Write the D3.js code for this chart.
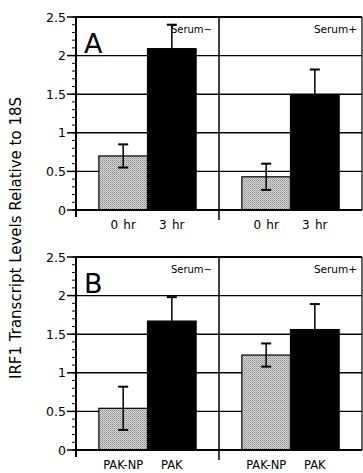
<!DOCTYPE html>
<html><head><meta charset="utf-8">
<script src="https://cdn.jsdelivr.net/npm/d3@7"></script>
<style>body{margin:0;background:#fff}svg{display:block}text{font-family:"DejaVu Sans",sans-serif;fill:#000}</style>
</head><body><svg id="c" width="363" height="473"></svg>
<script>
const panels = ["A", "B"];
const groups = ["Serum\u2212", "Serum+"];
const conditionsA = ["0 hr", "3 hr"];
const conditionsB = ["PAK-NP", "PAK"];
const meanA_serumMinus = [0.70, 2.09];
const errA_serumMinus  = [0.15, 0.31];
const meanA_serumPlus  = [0.43, 1.49];
const errA_serumPlus   = [0.17, 0.33];
const meanB_serumMinus = [0.54, 1.67];
const errB_serumMinus  = [0.28, 0.31];
const meanB_serumPlus  = [1.23, 1.56];
const errB_serumPlus   = [0.15, 0.33];
const yTicks = [0, 0.5, 1, 1.5, 2, 2.5];
const yTickLabels = ["0", "0.5", "1", "1.5", "2", "2.5"];
const yTitle = "IRF1 Transcript Levels Relative to 18S";

const panelData = [
  {label: panels[0], conds: conditionsA, condSize: 12, wordSpacing: 1.5,
   groups: [{name: groups[0], means: meanA_serumMinus, errs: errA_serumMinus},
            {name: groups[1], means: meanA_serumPlus, errs: errA_serumPlus}]},
  {label: panels[1], conds: conditionsB, condSize: 11.5, wordSpacing: 0,
   groups: [{name: groups[0], means: meanB_serumMinus, errs: errB_serumMinus},
            {name: groups[1], means: meanB_serumPlus, errs: errB_serumPlus}]}
];

const svg = d3.select("#c");
const defs = svg.append("defs");
const pat = defs.append("pattern").attr("id","stip").attr("width",2).attr("height",2).attr("patternUnits","userSpaceOnUse");
pat.append("rect").attr("width",2).attr("height",2).attr("fill","#d6d6d6");
pat.append("rect").attr("width",1).attr("height",1).attr("fill","#8c8c8c");
pat.append("rect").attr("x",1).attr("y",1).attr("width",1).attr("height",1).attr("fill","#acacac");

const left = 76, right = 362;
const panelTops = [17, 257], panelH = 193;
const xGroup = d3.scaleBand().domain(groups).range([left, right]);
const colors = ["url(#stip)", "#000"];

panelData.forEach((p, pi) => {
  const top = panelTops[pi], bottom = top + panelH;
  const y = d3.scaleLinear().domain([0, 2.5]).range([bottom, top]);
  const g = svg.append("g");
  g.selectAll(".grid").data(yTicks.filter(t => t > 0 && t < 2.5)).join("line")
    .attr("x1", left).attr("x2", right).attr("y1", d => y(d)).attr("y2", d => y(d))
    .attr("stroke", "#000").attr("stroke-width", 1.4);
  p.groups.forEach(gr => {
    const xi = d3.scaleBand().domain(p.conds).range([xGroup(gr.name), xGroup(gr.name) + xGroup.bandwidth()]).paddingInner(0).paddingOuter(0.47);
    const gg = g.append("g");
    gg.selectAll("rect").data(p.conds).join("rect")
      .attr("x", d => xi(d)).attr("width", xi.bandwidth())
      .attr("y", (d, i) => y(gr.means[i])).attr("height", (d, i) => bottom - y(gr.means[i]))
      .attr("fill", (d, i) => colors[i]).attr("stroke", "#000").attr("stroke-width", 1.2);
    const eb = gg.selectAll(".eb").data(p.conds).join("g");
    eb.append("line").attr("x1", d => xi(d) + xi.bandwidth()/2).attr("x2", d => xi(d) + xi.bandwidth()/2)
      .attr("y1", (d, i) => y(gr.means[i] + gr.errs[i])).attr("y2", (d, i) => y(gr.means[i] - gr.errs[i]))
      .attr("stroke", "#000").attr("stroke-width", 1.5);
    [1, -1].forEach(s => {
      eb.append("line").attr("x1", d => xi(d) + xi.bandwidth()/2 - 5).attr("x2", d => xi(d) + xi.bandwidth()/2 + 5)
        .attr("y1", (d, i) => y(gr.means[i] + s*gr.errs[i])).attr("y2", (d, i) => y(gr.means[i] + s*gr.errs[i]))
        .attr("stroke", "#000").attr("stroke-width", 2);
    });
    gg.selectAll(".cl").data(p.conds).join("text")
      .attr("x", d => xi(d) + xi.bandwidth()/2).attr("y", bottom + 19)
      .attr("text-anchor", "middle").attr("font-size", p.condSize).attr("word-spacing", p.wordSpacing).text(d => d);
  });
  g.append("line").attr("x1", left).attr("x2", right).attr("y1", top).attr("y2", top).attr("stroke","#000").attr("stroke-width",2);
  g.append("line").attr("x1", left).attr("x2", right).attr("y1", bottom).attr("y2", bottom).attr("stroke","#000").attr("stroke-width",2);
  g.append("line").attr("x1", left).attr("x2", left).attr("y1", top).attr("y2", bottom + 7).attr("stroke","#000").attr("stroke-width",2);
  g.append("line").attr("x1", xGroup(groups[1])).attr("x2", xGroup(groups[1])).attr("y1", top).attr("y2", bottom + 10).attr("stroke","#000").attr("stroke-width",1.5);
  g.append("line").attr("x1", right).attr("x2", right).attr("y1", top).attr("y2", bottom).attr("stroke","#000").attr("stroke-width",1.2);
  const minor = d3.range(0, 2.51, 0.1);
  g.selectAll(".mt").data(minor).join("line").attr("x1", left - 4).attr("x2", left)
    .attr("y1", d => y(d)).attr("y2", d => y(d)).attr("stroke","#000").attr("stroke-width",1);
  g.selectAll(".Mt").data(yTicks).join("line").attr("x1", left - 9).attr("x2", left)
    .attr("y1", d => y(d)).attr("y2", d => y(d)).attr("stroke","#000").attr("stroke-width",1.5);
  g.selectAll(".tl").data(yTicks).join("text").attr("x", left - 10).attr("y", d => y(d) + 4.5)
    .attr("text-anchor","end").attr("font-size",12.5).text((d, i) => yTickLabels[i]);
  g.append("text").attr("x", 84).attr("y", top + 36).attr("font-size", 27).text(p.label);
  g.append("text").attr("x", xGroup(groups[1]) - 7).attr("y", top + 16)
    .attr("text-anchor","end").attr("font-size", 10).text(groups[0]);
  g.append("text").attr("x", right - 5).attr("y", top + 16)
    .attr("text-anchor","end").attr("font-size", 10.5).text(groups[1]);
});

svg.append("text").attr("transform", "translate(21,238) rotate(-90)").attr("text-anchor","middle")
  .attr("font-size", 15).text(yTitle);
</script></body></html>
